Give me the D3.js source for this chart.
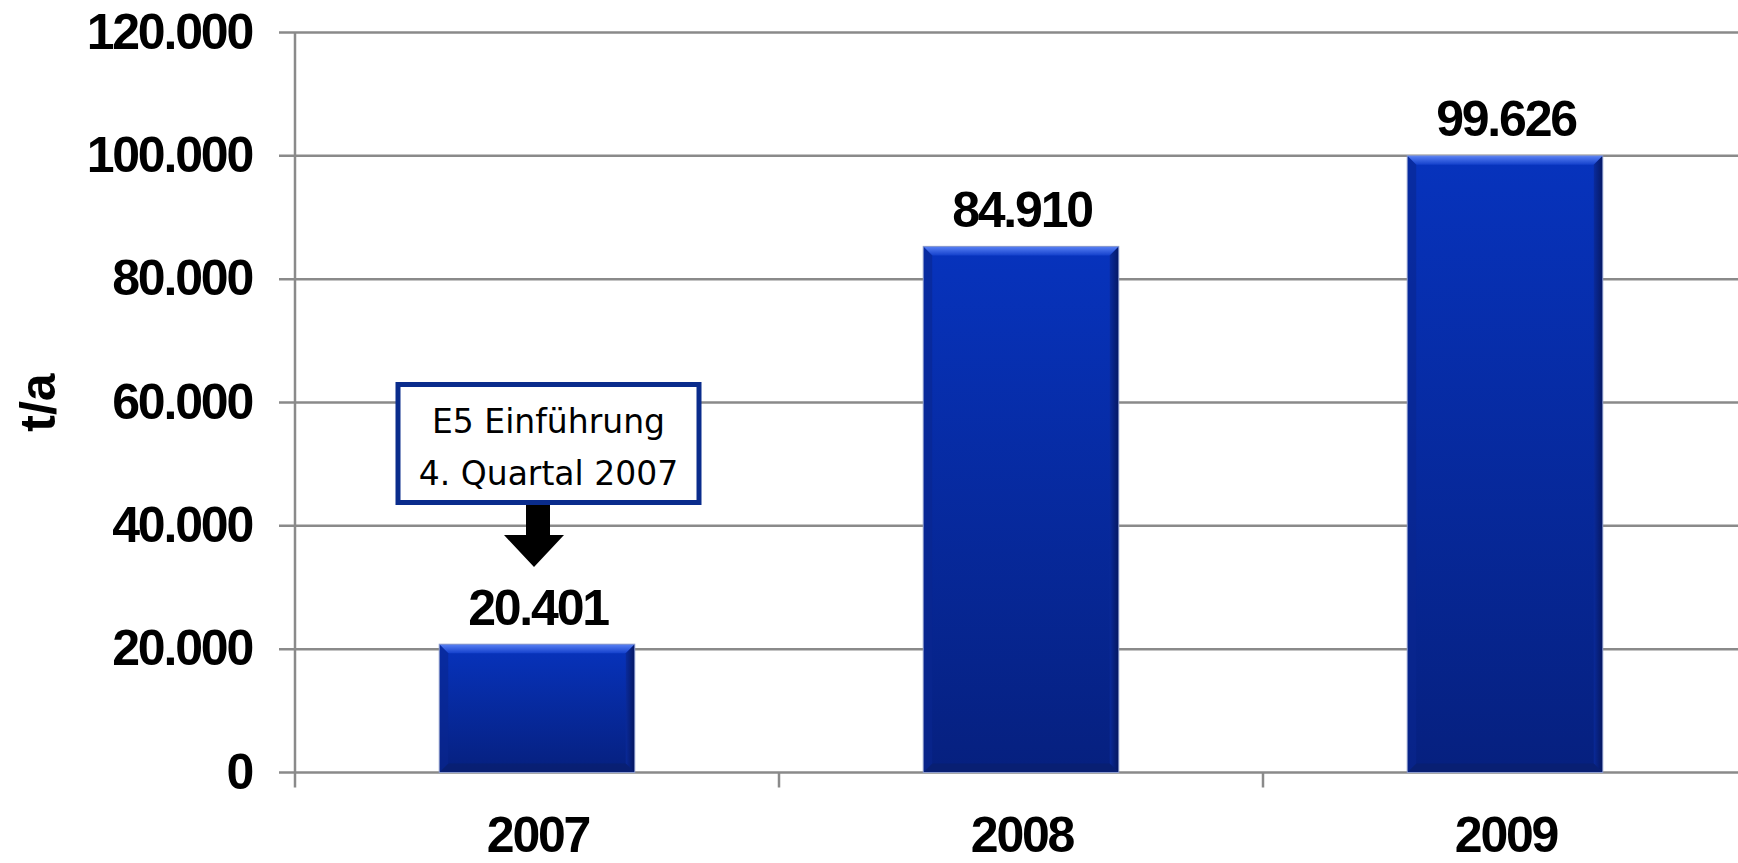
<!DOCTYPE html>
<html>
<head>
<meta charset="utf-8">
<script src="https://cdn.jsdelivr.net/npm/d3@7"></script>
<style>
  html, body { margin: 0; padding: 0; background: #ffffff; }
  svg { display: block; }
</style>
</head>
<body>
<svg id="chart" width="1738" height="863"></svg>
<script>
// ---- data ----
const categories = ["2007", "2008", "2009"];
const values = [20401, 84910, 99626];
const valueLabels = ["20.401", "84.910", "99.626"];
const yTicks = [0, 20000, 40000, 60000, 80000, 100000, 120000];
const yTickLabels = ["0", "20.000", "40.000", "60.000", "80.000", "100.000", "120.000"];
const yAxisTitle = "t/a";
const noteLines = ["E5 Einführung", "4. Quartal 2007"];
const noteCategory = "2007";

// ---- layout ----
const W = 1738, H = 863;
const svg = d3.select("#chart");
const x0 = 295, x1 = 1747, yTop = 32.5, yBot = 772.5;

const x = d3.scaleBand().domain(categories).range([x0, x1])
  .paddingInner(0.596).paddingOuter(0.298);
const y = d3.scaleLinear().domain([0, 120000]).range([yBot, yTop]);
const step = x.step();

const boldFont = "'Liberation Sans', Arial, sans-serif";

// defs
const defs = svg.append("defs");
const g1 = defs.append("linearGradient").attr("id", "barFill").attr("x1", 0).attr("y1", 0).attr("x2", 0).attr("y2", 1);
g1.append("stop").attr("offset", "0%").attr("stop-color", "#0733bd");
g1.append("stop").attr("offset", "100%").attr("stop-color", "#06207f");
const g2 = defs.append("linearGradient").attr("id", "topBevel").attr("x1", 0).attr("y1", 0).attr("x2", 0).attr("y2", 1);
g2.append("stop").attr("offset", "0%").attr("stop-color", "#5a82f5");
g2.append("stop").attr("offset", "100%").attr("stop-color", "#1441cc");
const g3 = defs.append("linearGradient").attr("id", "rightBevel").attr("x1", 0).attr("y1", 0).attr("x2", 1).attr("y2", 0);
g3.append("stop").attr("offset", "0%").attr("stop-color", "#0a2a9a");
g3.append("stop").attr("offset", "100%").attr("stop-color", "#05155a");

// gridlines
svg.append("g").selectAll("line").data(yTicks).join("line")
  .attr("x1", x0 - 16).attr("x2", x1)
  .attr("y1", d => y(d)).attr("y2", d => y(d))
  .attr("stroke", "#8a8a8a").attr("stroke-width", 2.5);

// y axis line
svg.append("line").attr("x1", x0).attr("x2", x0).attr("y1", yTop).attr("y2", yBot + 15)
  .attr("stroke", "#8a8a8a").attr("stroke-width", 2.5);

// x category ticks
const bounds = categories.map((c, i) => x0 + step * (i + 1)).filter(v => v < W);
svg.append("g").selectAll("line").data(bounds).join("line")
  .attr("x1", d => d).attr("x2", d => d).attr("y1", yBot).attr("y2", yBot + 15)
  .attr("stroke", "#8a8a8a").attr("stroke-width", 2.5);

// y tick labels
svg.append("g").selectAll("text").data(yTicks).join("text")
  .attr("x", 252).attr("y", d => y(d) + 16)
  .attr("text-anchor", "end")
  .attr("font-family", boldFont).attr("font-weight", "bold")
  .attr("font-size", 50).attr("letter-spacing", "-2.2px")
  .attr("fill", "#000")
  .text((d, i) => yTickLabels[i]);

// y axis title
svg.append("text")
  .attr("transform", `translate(55, ${(yTop + yBot) / 2}) rotate(-90)`)
  .attr("text-anchor", "middle")
  .attr("font-family", boldFont).attr("font-weight", "bold")
  .attr("font-size", 50)
  .text(yAxisTitle);

// bars
const bev = 9;
const bars = svg.append("g").selectAll("g").data(categories).join("g");
bars.each(function(c, i) {
  const g = d3.select(this);
  const bx = x(c), bw = x.bandwidth();
  const by = y(values[i]) - 2.5, bh = yBot - by;
  g.append("rect").attr("x", bx).attr("y", by).attr("width", bw).attr("height", bh)
    .attr("fill", "url(#barFill)");
  g.append("path").attr("d", `M${bx},${by} L${bx + bw},${by} L${bx + bw - bev},${by + bev} L${bx + bev},${by + bev} Z`)
    .attr("fill", "url(#topBevel)");
  g.append("path").attr("d", `M${bx + bw},${by} L${bx + bw},${yBot} L${bx + bw - bev},${yBot - bev} L${bx + bw - bev},${by + bev} Z`)
    .attr("fill", "url(#rightBevel)").attr("opacity", 0.9);
  g.append("path").attr("d", `M${bx},${yBot} L${bx + bw},${yBot} L${bx + bw - bev},${yBot - bev} L${bx + bev},${yBot - bev} Z`)
    .attr("fill", "#0a1f6e").attr("opacity", 0.7);
  g.append("path").attr("d", `M${bx},${by} L${bx + bev},${by + bev} L${bx + bev},${yBot - bev} L${bx},${yBot} Z`)
    .attr("fill", "#0a2690").attr("opacity", 0.6);
  g.append("rect").attr("x", bx).attr("y", by).attr("width", bw).attr("height", bh)
    .attr("fill", "none").attr("stroke", "#8d9ccc").attr("stroke-width", 1);
});

// value labels
svg.append("g").selectAll("text").data(categories).join("text")
  .attr("x", d => x(d) + x.bandwidth() / 2 + 1)
  .attr("y", (d, i) => y(values[i]) - 22)
  .attr("text-anchor", "middle")
  .attr("font-family", boldFont).attr("font-weight", "bold")
  .attr("font-size", 50).attr("letter-spacing", "-2.2px")
  .text((d, i) => valueLabels[i]);

// category labels
svg.append("g").selectAll("text").data(categories).join("text")
  .attr("x", d => x(d) + x.bandwidth() / 2 + 1)
  .attr("y", 852)
  .attr("text-anchor", "middle")
  .attr("font-family", boldFont).attr("font-weight", "bold")
  .attr("font-size", 50).attr("letter-spacing", "-2.2px")
  .text(d => d);

// annotation box + arrow
const cx = x(noteCategory) + x.bandwidth() / 2;
const boxL = cx - 139, boxR = cx + 162, boxT = 384.5, boxB = 502.5;
svg.append("rect").attr("x", boxL).attr("y", boxT).attr("width", boxR - boxL).attr("height", boxB - boxT)
  .attr("fill", "#fff").attr("stroke", "#0a2c8c").attr("stroke-width", 5);
svg.append("g").selectAll("text").data(noteLines).join("text")
  .attr("x", (boxL + boxR) / 2).attr("y", (d, i) => 433 + i * 52)
  .attr("text-anchor", "middle")
  .attr("font-family", "'DejaVu Sans', sans-serif").attr("font-size", 33)
  .attr("fill", "#000")
  .text(d => d);

const ax = cx - 3;
svg.append("path")
  .attr("d", `M${ax - 8},505 L${ax + 16},505 L${ax + 16},535 L${ax + 30},535 L${ax},567 L${ax - 30},535 L${ax - 8},535 Z`)
  .attr("fill", "#000");
</script>
</body>
</html>
